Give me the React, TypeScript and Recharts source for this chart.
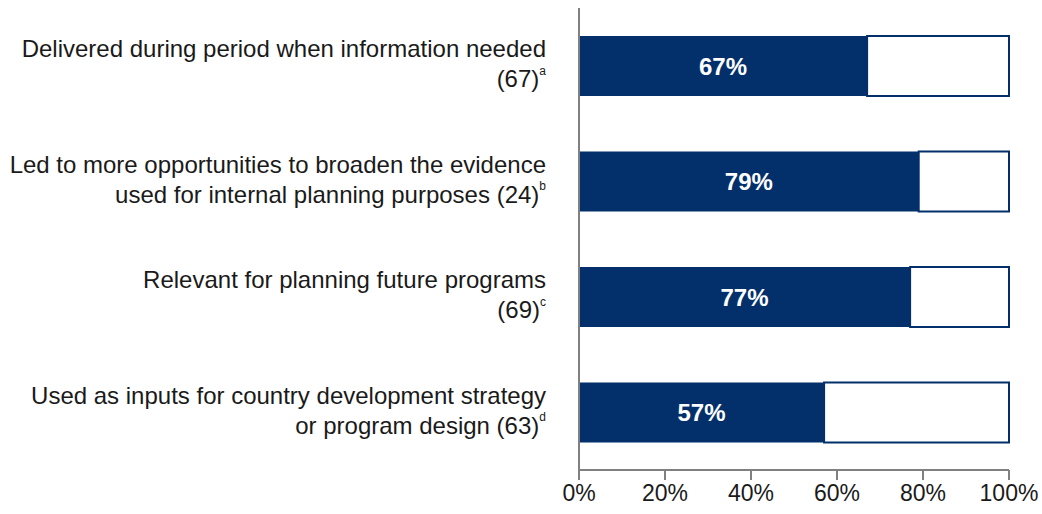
import React from "react";
import { BarChart, Bar, XAxis, YAxis, LabelList } from "recharts";

const categories = ["Delivered", "Led", "Relevant", "Used"];
const labelLine1 = [
  "Delivered during period when information needed",
  "Led to more opportunities to broaden the evidence",
  "Relevant for planning future programs",
  "Used as inputs for country development strategy",
];
const labelLine2 = [
  "(67)",
  "used for internal planning purposes (24)",
  "(69)",
  "or program design (63)",
];
const footnotes = ["a", "b", "c", "d"];
const values = [67, 79, 77, 57];
const xTicks = [0, 20, 40, 60, 80, 100];

const NAVY = "#03306b";
const AXIS = "#808080";
const FONT = "'Liberation Sans', Arial, sans-serif";

const data = categories.map((c, i) => ({
  name: c,
  value: values[i],
  rest: 100 - values[i],
}));

const CategoryTick = (props: any) => {
  const { x, y, payload } = props;
  const i = categories.indexOf(payload.value);
  if (i < 0) return null;
  return (
    <g>
      <text
        x={x}
        y={y - 17}
        textAnchor="end"
        dominantBaseline="central"
        fontSize={24}
        fontFamily={FONT}
        fill="#1a1a1a"
      >
        {labelLine1[i]}
      </text>
      <text
        x={x}
        y={y + 13}
        textAnchor="end"
        dominantBaseline="central"
        fontSize={24}
        fontFamily={FONT}
        fill="#1a1a1a"
      >
        {labelLine2[i]}
        <tspan fontSize={12} dy={-8}>
          {footnotes[i]}
        </tspan>
      </text>
    </g>
  );
};

export default function App() {
  return (
    <div style={{ position: "absolute", left: 0, top: 0, background: "#fff" }}>
      <BarChart
        width={1042}
        height={514}
        data={data}
        layout="vertical"
        margin={{ top: 8, right: 33, left: 0, bottom: 0 }}
        barSize={60}
      >
        <XAxis
          type="number"
          domain={[0, 100]}
          ticks={xTicks}
          tickFormatter={(v: number) => `${v}%`}
          height={44}
          axisLine={{ stroke: AXIS, strokeWidth: 2 }}
          tickLine={{ stroke: AXIS, strokeWidth: 2 }}
          tickSize={10}
          tickMargin={5}
          tick={{ fontSize: 23, fontFamily: FONT, fill: "#1a1a1a" }}
          interval={0}
        />
        <YAxis
          type="category"
          dataKey="name"
          width={579}
          axisLine={{ stroke: AXIS, strokeWidth: 2 }}
          tickLine={false}
          tickSize={0}
          tickMargin={33}
          tick={<CategoryTick />}
          interval={0}
        />
        <Bar dataKey="value" stackId="s" fill={NAVY} isAnimationActive={false}>
          <LabelList
            dataKey="value"
            position="center"
            formatter={(v: any) => `${v}%`}
            fill="#ffffff"
            fontSize={24}
            fontWeight="bold"
            fontFamily={FONT}
          />
        </Bar>
        <Bar
          dataKey="rest"
          stackId="s"
          fill="#ffffff"
          stroke={NAVY}
          strokeWidth={2}
          isAnimationActive={false}
        />
      </BarChart>
    </div>
  );
}
